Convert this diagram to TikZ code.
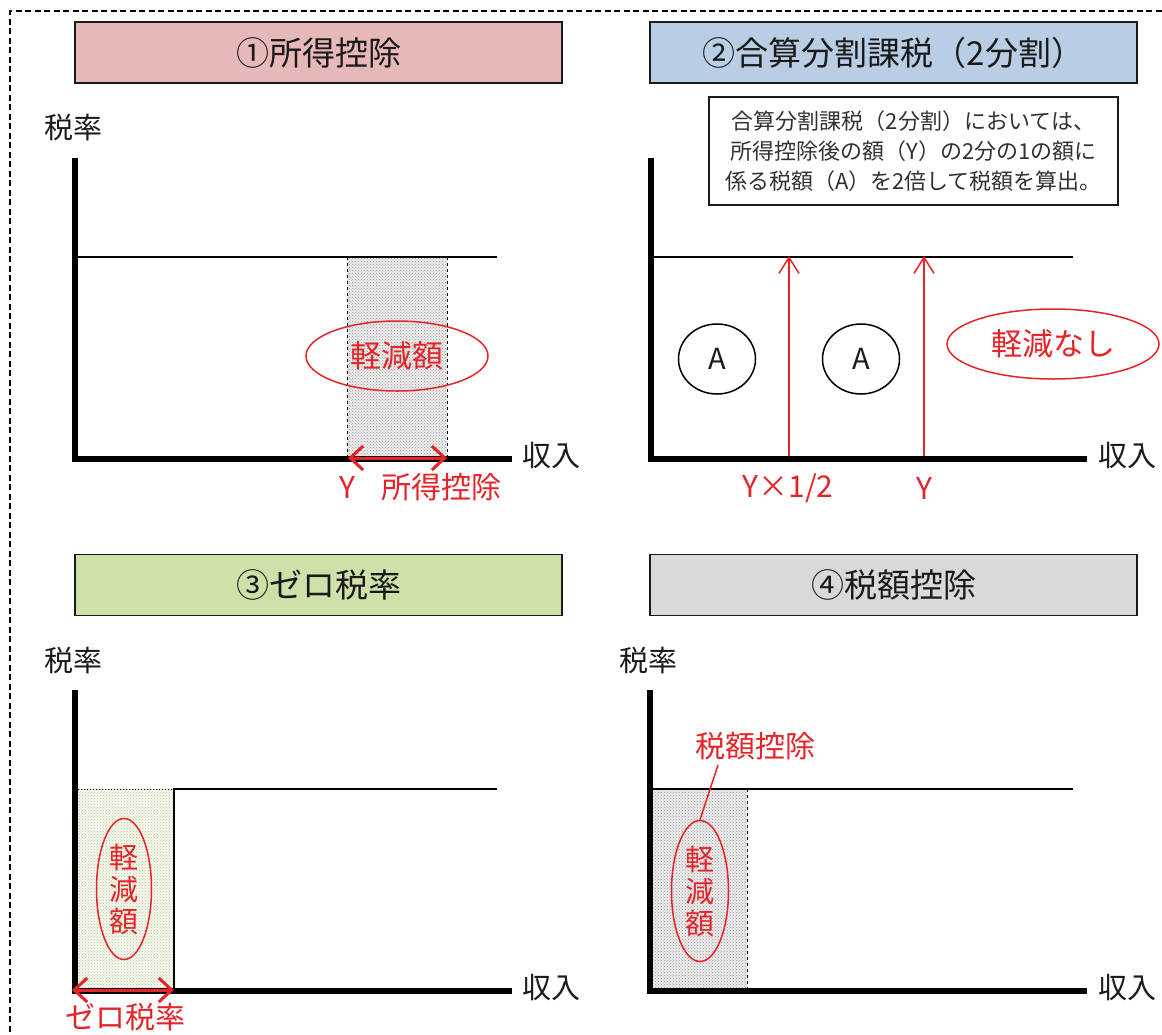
\documentclass[tikz,border=0pt]{standalone}
\usepackage{fontspec}
\setmainfont{Noto Sans CJK JP}
\usetikzlibrary{shapes.geometric,arrows.meta,patterns}
\definecolor{myred}{RGB}{230,35,40}
\definecolor{tonecol}{HTML}{E6B8B7}
\definecolor{ttwocol}{HTML}{B9CDE5}
\definecolor{tthreecol}{HTML}{CEE1A8}
\definecolor{tfourcol}{HTML}{D9D9D9}
\definecolor{ink}{HTML}{1A1A1A}
\definecolor{greenfill}{HTML}{F4F7EE}
\definecolor{greendot}{HTML}{B9CC98}
\tikzset{
  frame/.style={line width=1.5pt, dash pattern=on 6pt off 3.5pt},
  titlebox/.style={draw=ink, line width=1.6pt, minimum width=487pt, minimum height=61pt, inner sep=0pt, text=ink, font=\fontsize{33}{35}\selectfont},
  axislbl/.style={inner sep=0pt, text=ink, font=\fontsize{29}{31}\selectfont},
  axisline/.style={line width=5.5pt, line join=miter},
  rateline/.style={line width=1.8pt},
  redtxt/.style={inner sep=0pt, text=myred, font=\fontsize{30}{32}\selectfont},
  redell/.style={ellipse, draw=myred, line width=1.5pt, inner sep=0pt, text=myred, font=\fontsize{31}{33}\selectfont, align=center},
  redarrow/.style={draw=myred, line width=3pt, {Straight Barb[length=13pt,width=24pt]}-{Straight Barb[length=13pt,width=24pt]}},
  uparrow/.style={draw=myred, line width=1.5pt, -{Straight Barb[length=16pt,width=20pt]}},
  acircle/.style={ellipse, draw=black, line width=1.5pt, minimum width=77pt, minimum height=70pt, inner sep=0pt, font=\fontsize{29}{30}\selectfont, text=ink},
  noteBox/.style={draw=ink, line width=1.3pt, minimum width=409pt, minimum height=108pt, align=center, inner sep=0pt, text=ink!90, font=\fontsize{22}{30}\selectfont},
  edgeline/.style={line width=1pt, dashed}
}
\begin{document}
\begin{tikzpicture}[x=1pt,y=-1pt]
\useasboundingbox (0,0) rectangle (1162,1034);
\begin{scope}
  \clip (0,0) rectangle (1162,1034);
  \draw[frame] (10,1060) -- (10,11) -- (1180,11);
\end{scope}

% titles
\node[titlebox, fill=tonecol] (T1) at (318.5,52.5) {①所得控除};
\node[titlebox, fill=ttwocol] (T2) at (893.5,52.5) {②合算分割課税（2分割）};
\node[titlebox, fill=tthreecol] (T3) at (318.5,585) {③ゼロ税率};
\node[titlebox, fill=tfourcol] (T4) at (893.5,585) {④税額控除};

% ---------- panel 1
\coordinate (P1top) at (75,158);
\coordinate (P1o) at (75,459);
\coordinate (P1x) at (512,459);
\coordinate (P1r0) at (75,257);
\coordinate (P1r1) at (497,257);
\coordinate (S1a) at (347,257);
\coordinate (S1b) at (447,459);
\coordinate (S1c) at (347,459);
\coordinate (S1d) at (447,257);
\fill[black!8] (S1a) rectangle (S1b);
\fill[pattern=crosshatch dots, pattern color=black!40] (S1a) rectangle (S1b);
\draw[edgeline] (S1a) -- (S1c);
\draw[edgeline] (S1d) -- (S1b);
\draw[rateline] (P1r0) -- (P1r1);
\draw[axisline] (P1top) -- (P1o) -- (P1x);
\node[axislbl] (L1y) at (73,128) {税率};
\node[axislbl] (L1x) at (551,456) {収入};
\node[redell, minimum width=182pt, minimum height=70pt] (E1) at (397,356) {軽減額};
\coordinate (A1a) at (348,458);
\coordinate (A1b) at (447,458);
\draw[redarrow] (A1a) -- (A1b);
\node[redtxt] (Y1) at (347,487) {Y};
\node[redtxt] (D1) at (441,487) {所得控除};

% ---------- panel 2
\coordinate (P2top) at (651,158);
\coordinate (P2o) at (651,459);
\coordinate (P2x) at (1087,459);
\coordinate (P2r0) at (651,257);
\coordinate (P2r1) at (1073,257);
\draw[rateline] (P2r0) -- (P2r1);
\draw[axisline] (P2top) -- (P2o) -- (P2x);
\node[axislbl] (L2x) at (1127,456) {収入};
\node[noteBox] (NB) at (913.5,151) {合算分割課税（2分割）においては、\\所得控除後の額（Y）の2分の1の額に\\係る税額（A）を2倍して税額を算出。};
\coordinate (U1a) at (789,456);
\coordinate (U1b) at (789,256);
\coordinate (U2a) at (924,456);
\coordinate (U2b) at (924,256);
\draw[uparrow] (U1a) -- (U1b);
\draw[uparrow] (U2a) -- (U2b);
\node[acircle] (CA1) at (717,359) {A};
\node[acircle] (CA2) at (861,359) {A};
\node[redell, minimum width=212pt, minimum height=70pt] (E2) at (1053,344) {軽減なし};
\node[redtxt] (Y2h) at (788,488) {Y×1/2};
\node[redtxt] (Y2) at (924,488) {Y};

% ---------- panel 3
\coordinate (P3top) at (75,690);
\coordinate (P3o) at (75,991);
\coordinate (P3x) at (512,991);
\coordinate (P3r0) at (75,789);
\coordinate (P3r1) at (174,789);
\coordinate (P3r2) at (497,789);
\coordinate (P3b) at (174,991);
\fill[greenfill] (P3r0) rectangle (P3b);
\fill[pattern=crosshatch dots, pattern color=greendot] (P3r0) rectangle (P3b);
\draw[line width=1pt, dotted] (P3r0) -- (P3r1);
\draw[rateline] (P3b) -- (P3r1) -- (P3r2);
\draw[axisline] (P3top) -- (P3o) -- (P3x);
\node[axislbl] (L3y) at (73,660) {税率};
\node[axislbl] (L3x) at (551,988) {収入};
\node[redell, font=\fontsize{29}{32}\selectfont, minimum width=55pt, minimum height=141pt] (E3) at (124,889) {軽\\減\\額};
\coordinate (A3a) at (72,990);
\coordinate (A3b) at (174,990);
\draw[redarrow] (A3a) -- (A3b);
\node[redtxt] (Z3) at (125,1017) {ゼロ税率};

% ---------- panel 4
\coordinate (P4top) at (650,690);
\coordinate (P4o) at (650,991);
\coordinate (P4x) at (1087,991);
\coordinate (P4r0) at (650,789);
\coordinate (P4r1) at (1073,789);
\coordinate (S4a) at (650,789);
\coordinate (S4b) at (747,991);
\coordinate (S4d) at (747,789);
\fill[black!8] (S4a) rectangle (S4b);
\fill[pattern=crosshatch dots, pattern color=black!40] (S4a) rectangle (S4b);
\draw[edgeline] (S4d) -- (S4b);
\draw[rateline] (P4r0) -- (P4r1);
\draw[axisline] (P4top) -- (P4o) -- (P4x);
\node[axislbl] (L4y) at (648,660) {税率};
\node[axislbl] (L4x) at (1127,988) {収入};
\node[redell, font=\fontsize{29}{32}\selectfont, minimum width=57pt, minimum height=141pt] (E4) at (700,891) {軽\\減\\額};
\node[redtxt] (K4) at (755,746) {税額控除};
\draw[draw=myred, line width=1.5pt] (718,765) -- (E4.north);
\end{tikzpicture}
\end{document}
